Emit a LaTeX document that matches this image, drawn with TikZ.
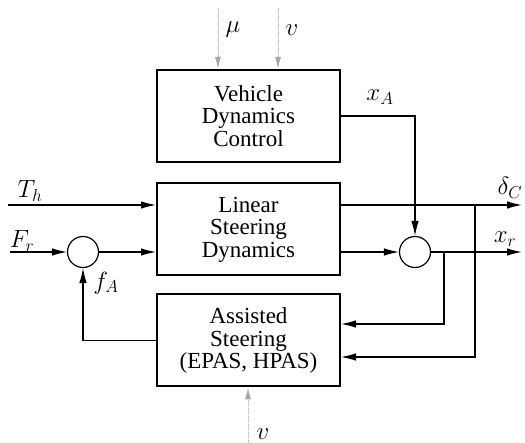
\documentclass[tikz,border=0pt]{standalone}
\usepackage{fontspec}
\setmainfont{Liberation Serif}
\usetikzlibrary{arrows.meta,calc}
\begin{document}
\begin{tikzpicture}[x=1pt,y=-1pt,
  blk/.style={draw,line width=2pt,minimum width=183pt,minimum height=92pt,inner sep=0pt,align=center,font=\fontsize{23}{22.5}\selectfont},
  sum/.style={draw,line width=1.2pt,circle,minimum size=31pt,inner sep=0pt},
  arr/.style={line width=1.2pt,-{Latex[length=15pt,width=7.5pt]}},
  gin/.style={draw=gray!70,line width=1pt,densely dotted,-{Latex[length=12pt,width=6pt,fill=gray!70]}},
  lab/.style={font=\fontsize{23}{22}\selectfont,inner sep=0pt}]
\useasboundingbox (0,0) rectangle (525,443);
\node[blk] (vdc) at (248.5,116) {Vehicle\\Dynamics\\Control};
\node[blk] (lsd) at (248.5,229.5) {Linear\\Steering\\Dynamics};
\node[blk] (as) at (248.5,340.5) {Assisted\\Steering\\(EPAS, HPAS)};
\node[sum] (cl) at (83,252) {};
\node[sum] (cr) at (415,252) {};
\coordinate (mu0) at (218,8);
\coordinate (v0) at (278,8);
\coordinate (vb) at (248,443);
\coordinate (th) at (8,205);
\coordinate (fr) at (10,252);
\coordinate (dc) at (522,205);
\coordinate (xr) at (522,252);
\coordinate (b1) at (475,205);
\coordinate (b1b) at (475,357);
\coordinate (b2) at (444,252);
\coordinate (b2b) at (444,324);
% inputs
\draw[gin] (mu0) -- (mu0 |- vdc.north);
\draw[gin] (v0) -- (v0 |- vdc.north);
\draw[gin] (vb) -- (vb |- as.south);
\draw[arr] (th) -- (th -| lsd.west);
\draw[arr] (fr) -- (cl.west);
\draw[arr] (cl.east) -- (cl -| lsd.west);
% outputs
\draw[arr] (th -| lsd.east) -- (dc);
\draw[arr] (cl -| lsd.east) -- (cr.west);
\draw[arr] (cr.east) -- (xr);
\draw[arr] (vdc.east) -| (cr.north);
% feedback
\draw[arr] (b1) -- (b1b) -- (b1b -| as.east);
\draw[arr] (b2) -- (b2b) -- (b2b -| as.east);
\draw[arr] (as.west) -| (cl.south);
% labels
\node[lab] (lmu) at (233,30) {$\mu$};
\node[lab] (lv) at (292,30) {$v$};
\node[lab] (lvb) at (263,434) {$v$};
\node[lab] (lxa) at (380,97) {$x_A$};
\node[lab] (lth) at (30,191) {$T_h$};
\node[lab] (lfr) at (22,241) {$F_r$};
\node[lab] (lfa) at (106,283) {$f_A$};
\node[lab] (ldc) at (510,188) {$\delta_C$};
\node[lab] (lxr) at (505,239) {$x_r$};
\end{tikzpicture}
\end{document}
